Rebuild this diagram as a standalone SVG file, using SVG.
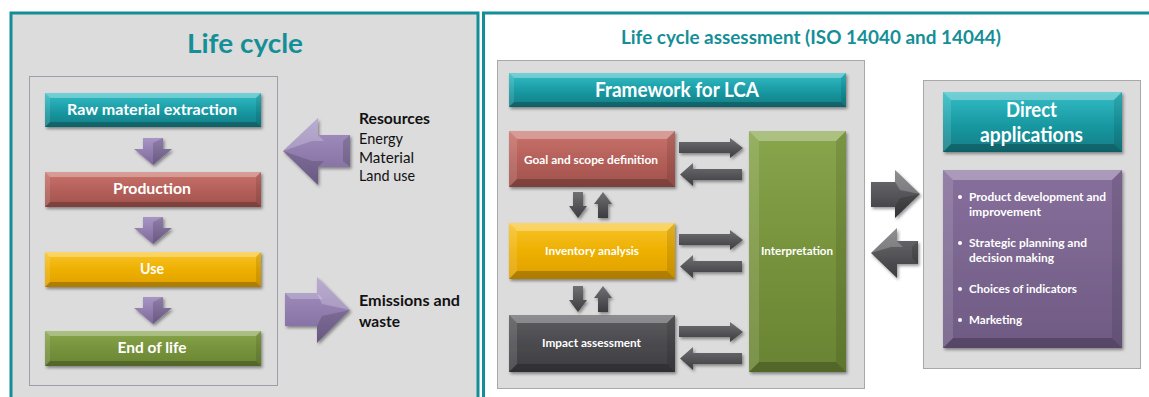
<svg xmlns="http://www.w3.org/2000/svg" width="1149" height="397" viewBox="0 0 1149 397">
<style>
text{font-family:Lato,"Open Sans","Liberation Sans",sans-serif;}
.w{fill:#ffffff;font-weight:bold;text-anchor:middle;}
.tl{fill:#ffffff;fill-opacity:.30;}
.bb{fill:#000000;fill-opacity:.22;}
.ll{fill:#ffffff;fill-opacity:.12;}
.rr{fill:#000000;fill-opacity:.10;}
.title{fill:#158f97;font-weight:bold;text-anchor:middle;}
.blk{fill:#111111;font-size:15px;}
.bul{fill:#ffffff;font-weight:bold;font-size:12px;}
.pa{fill:url(#gP);filter:url(#sh);}
.ga{fill:url(#gG);filter:url(#sh);}
.fa{fill:#ffffff;fill-opacity:.22;}
.fd{fill:#000000;fill-opacity:.15;}
</style>
<defs>
<filter id="sh" x="-20%" y="-20%" width="150%" height="150%">
<feDropShadow dx="1.5" dy="2" stdDeviation="1.5" flood-color="#000" flood-opacity=".4"/>
</filter>
<linearGradient id="gT" x1="0" y1="0" x2="0" y2="1"><stop offset="0" stop-color="#35bdc6"/><stop offset=".5" stop-color="#1a9ca5"/><stop offset="1" stop-color="#117c84"/></linearGradient>
<linearGradient id="gR" x1="0" y1="0" x2="0" y2="1"><stop offset="0" stop-color="#c9736b"/><stop offset=".5" stop-color="#b5605a"/><stop offset="1" stop-color="#a0524c"/></linearGradient>
<linearGradient id="gY" x1="0" y1="0" x2="0" y2="1"><stop offset="0" stop-color="#f8c42a"/><stop offset=".5" stop-color="#eeb000"/><stop offset="1" stop-color="#df9f00"/></linearGradient>
<linearGradient id="gE" x1="0" y1="0" x2="0" y2="1"><stop offset="0" stop-color="#88a64c"/><stop offset=".5" stop-color="#77933c"/><stop offset="1" stop-color="#698433"/></linearGradient>
<linearGradient id="gK" x1="0" y1="0" x2="0" y2="1"><stop offset="0" stop-color="#5c5c60"/><stop offset=".5" stop-color="#4b4b4f"/><stop offset="1" stop-color="#3d3d41"/></linearGradient>
<linearGradient id="gV" x1="0" y1="0" x2="0" y2="1"><stop offset="0" stop-color="#876f9c"/><stop offset=".5" stop-color="#7b6690"/><stop offset="1" stop-color="#6f5a84"/></linearGradient>
<linearGradient id="gP" x1="0" y1="0" x2="0" y2="1"><stop offset="0" stop-color="#a895c6"/><stop offset="1" stop-color="#7c6899"/></linearGradient>
<linearGradient id="gG" x1="0" y1="0" x2="0" y2="1"><stop offset="0" stop-color="#707074"/><stop offset="1" stop-color="#3c3c40"/></linearGradient>
</defs>

<rect x="0" y="0" width="1149" height="397" fill="#ffffff"/>

<!-- Left panel -->
<g id="panel-life-cycle">
<rect x="11" y="13" width="467" height="400" fill="#dcdcdc" stroke="#138e96" stroke-width="3"/>
<text class="title" x="245" y="53" font-size="27" textLength="116" lengthAdjust="spacingAndGlyphs">Life cycle</text>
<rect x="29.5" y="76.5" width="248" height="309" fill="none" stroke="#9f9dab" stroke-width="1"/>
</g>

<!-- Right panel -->
<g id="panel-lca">
<path d="M483.5 412 V13 H1149" fill="none" stroke="#138e96" stroke-width="3"/>
<text class="title" x="811" y="44" font-size="18.5" textLength="380" lengthAdjust="spacingAndGlyphs">Life cycle assessment (ISO 14040 and 14044)</text>
<rect x="497.5" y="60.5" width="367" height="328" fill="#dcdcdc" stroke="#a8a8a8" stroke-width="1"/>
<rect x="923.5" y="80.5" width="217" height="288" fill="#dcdcdc" stroke="#a8a8a8" stroke-width="1"/>
</g>

<!-- Life cycle nodes -->
<g id="raw-material">
<rect x="45" y="93" width="216" height="34" fill="url(#gT)" filter="url(#sh)"/>
<polygon class="tl" points="45,93 261,93 256,98 50,98"/><polygon class="bb" points="45,127 261,127 256,122 50,122"/><polygon class="ll" points="45,93 50,98 50,122 45,127"/><polygon class="rr" points="261,93 256,98 256,122 261,127"/>
<text class="w" x="152" y="115" font-size="15" textLength="170" lengthAdjust="spacingAndGlyphs">Raw material  extraction</text>
</g>
<g id="production">
<rect x="45" y="172" width="216" height="35" fill="url(#gR)" filter="url(#sh)"/>
<polygon class="tl" points="45,172 261,172 256,177 50,177"/><polygon class="bb" points="45,207 261,207 256,202 50,202"/><polygon class="ll" points="45,172 50,177 50,202 45,207"/><polygon class="rr" points="261,172 256,177 256,202 261,207"/>
<text class="w" x="152" y="194" font-size="15" textLength="78" lengthAdjust="spacingAndGlyphs">Production</text>
</g>
<g id="use">
<rect x="45" y="252" width="216" height="35" fill="url(#gY)" filter="url(#sh)"/>
<polygon class="tl" points="45,252 261,252 256,257 50,257"/><polygon class="bb" points="45,287 261,287 256,282 50,282"/><polygon class="ll" points="45,252 50,257 50,282 45,287"/><polygon class="rr" points="261,252 256,257 256,282 261,287"/>
<text class="w" x="152" y="274" font-size="15" textLength="24" lengthAdjust="spacingAndGlyphs">Use</text>
</g>
<g id="end-of-life">
<rect x="45" y="331" width="216" height="35" fill="url(#gE)" filter="url(#sh)"/>
<polygon class="tl" points="45,331 261,331 256,336 50,336"/><polygon class="bb" points="45,366 261,366 256,361 50,361"/><polygon class="ll" points="45,331 50,336 50,361 45,366"/><polygon class="rr" points="261,331 256,336 256,361 261,366"/>
<text class="w" x="152" y="353" font-size="15" textLength="69" lengthAdjust="spacingAndGlyphs">End of life</text>
</g>
<g id="resources">
<text class="blk" x="359" y="124" font-weight="bold" textLength="71" lengthAdjust="spacingAndGlyphs">Resources</text>
<text class="blk" x="359" y="144" textLength="44" lengthAdjust="spacingAndGlyphs">Energy</text>
<text class="blk" x="359" y="163" textLength="55" lengthAdjust="spacingAndGlyphs">Material</text>
<text class="blk" x="359" y="181" textLength="56" lengthAdjust="spacingAndGlyphs">Land use</text>
</g>
<g id="emissions">
<text class="blk" x="359" y="306" font-weight="bold" textLength="101" lengthAdjust="spacingAndGlyphs">Emissions and</text>
<text class="blk" x="359" y="327" font-weight="bold" textLength="41" lengthAdjust="spacingAndGlyphs">waste</text>
</g>

<!-- LCA nodes -->
<g id="framework">
<rect x="509" y="73" width="337" height="34" fill="url(#gT)" filter="url(#sh)"/>
<polygon class="tl" points="509,73 846,73 841,78 514,78"/><polygon class="bb" points="509,107 846,107 841,102 514,102"/><polygon class="ll" points="509,73 514,78 514,102 509,107"/><polygon class="rr" points="846,73 841,78 841,102 846,107"/>
<text class="w" x="677" y="97" font-size="20" textLength="164" lengthAdjust="spacingAndGlyphs">Framework for LCA</text>
</g>
<g id="goal-scope">
<rect x="509" y="131" width="166" height="56" fill="url(#gR)" filter="url(#sh)"/>
<polygon class="tl" points="509,131 675,131 667,139 517,139"/><polygon class="bb" points="509,187 675,187 667,179 517,179"/><polygon class="ll" points="509,131 517,139 517,179 509,187"/><polygon class="rr" points="675,131 667,139 667,179 675,187"/>
<text class="w" x="591" y="164" font-size="11.5" textLength="134" lengthAdjust="spacingAndGlyphs">Goal and scope definition</text>
</g>
<g id="inventory">
<rect x="509" y="223" width="166" height="56" fill="url(#gY)" filter="url(#sh)"/>
<polygon class="tl" points="509,223 675,223 667,231 517,231"/><polygon class="bb" points="509,279 675,279 667,271 517,271"/><polygon class="ll" points="509,223 517,231 517,271 509,279"/><polygon class="rr" points="675,223 667,231 667,271 675,279"/>
<text class="w" x="592" y="255" font-size="11.5" textLength="94" lengthAdjust="spacingAndGlyphs">Inventory analysis</text>
</g>
<g id="impact">
<rect x="509" y="315" width="166" height="57" fill="url(#gK)" filter="url(#sh)"/>
<polygon class="tl" points="509,315 675,315 667,323 517,323"/><polygon class="bb" points="509,372 675,372 667,364 517,364"/><polygon class="ll" points="509,315 517,323 517,364 509,372"/><polygon class="rr" points="675,315 667,323 667,364 675,372"/>
<text class="w" x="591.5" y="347" font-size="11.5" textLength="99" lengthAdjust="spacingAndGlyphs">Impact assessment</text>
</g>
<g id="interpretation">
<rect x="749" y="131" width="97" height="241" fill="url(#gE)" filter="url(#sh)"/>
<polygon class="tl" points="749,131 846,131 836,141 759,141"/><polygon class="bb" points="749,372 846,372 836,362 759,362"/><polygon class="ll" points="749,131 759,141 759,362 749,372"/><polygon class="rr" points="846,131 836,141 836,362 846,372"/>
<text class="w" x="797" y="255" font-size="11.5" textLength="72" lengthAdjust="spacingAndGlyphs">Interpretation</text>
</g>
<g id="direct-applications">
<rect x="943" y="92" width="179" height="60" fill="url(#gT)" filter="url(#sh)"/>
<polygon class="tl" points="943,92 1122,92 1114,100 951,100"/><polygon class="bb" points="943,152 1122,152 1114,144 951,144"/><polygon class="ll" points="943,92 951,100 951,144 943,152"/><polygon class="rr" points="1122,92 1114,100 1114,144 1122,152"/>
<text class="w" x="1031.5" y="117" font-size="20.5" textLength="51" lengthAdjust="spacingAndGlyphs">Direct</text>
<text class="w" x="1031.5" y="142" font-size="20.5" textLength="103" lengthAdjust="spacingAndGlyphs">applications</text>
</g>
<g id="applications-list">
<rect x="943" y="170" width="179" height="178" fill="url(#gV)" filter="url(#sh)"/>
<polygon class="tl" points="943,170 1122,170 1112,180 953,180"/><polygon class="bb" points="943,348 1122,348 1112,338 953,338"/><polygon class="ll" points="943,170 953,180 953,338 943,348"/><polygon class="rr" points="1122,170 1112,180 1112,338 1122,348"/>
<circle cx="960" cy="197" r="2" fill="#fff"/><text class="bul" x="969" y="201" textLength="137" lengthAdjust="spacingAndGlyphs">Product development and</text>
<text class="bul" x="969" y="216" textLength="72" lengthAdjust="spacingAndGlyphs">improvement</text>
<circle cx="960" cy="243" r="2" fill="#fff"/><text class="bul" x="969" y="247" textLength="118" lengthAdjust="spacingAndGlyphs">Strategic planning and</text>
<text class="bul" x="969" y="262" textLength="85" lengthAdjust="spacingAndGlyphs">decision making</text>
<circle cx="960" cy="289" r="2" fill="#fff"/><text class="bul" x="969" y="293" textLength="108" lengthAdjust="spacingAndGlyphs">Choices of indicators</text>
<circle cx="960" cy="320" r="2" fill="#fff"/><text class="bul" x="969" y="324" textLength="53" lengthAdjust="spacingAndGlyphs">Marketing</text>
</g>

<!-- Connectors -->
<g id="connectors">
<g>
<polygon class="pa" points="143,138 163,138 163,149 172,149 153,165 134,149 143,149"/>
<polygon class="fd" points="153,143 163,138 163,149 172,149 153,165"/>
<polygon class="pa" points="143,217 163,217 163,228 172,228 153,244 134,228 143,228"/>
<polygon class="fd" points="153,222 163,217 163,228 172,228 153,244"/>
<polygon class="pa" points="143,297 163,297 163,308 172,308 153,324 134,308 143,308"/>
<polygon class="fd" points="153,302 163,297 163,308 172,308 153,324"/>
</g>
<polygon class="pa" points="283,151 318,118 318,135 350,135 350,167 318,167 318,185"/>
<polygon class="fa" points="283,151 318,118 318,135 324,141 312,141"/>
<polygon class="fd" points="283,151 312,161 324,161 318,167 318,185"/>
<polygon class="fd" points="350,135 350,167 343,161 343,141"/>
<polygon class="pa" points="285,293 317,293 317,277 350,310 317,343 317,326 285,326"/>
<polygon class="fa" points="285,293 317,293 323,299 291,299"/>
<polygon class="fa" points="317,277 350,310 322,304 317,293"/>
<polygon class="fd" points="350,310 317,343 317,326 322,316"/>
<g>
<polygon class="ga" points="679,142 730,142 730,138 743,148 730,158 730,153 679,153"/>
<polygon class="ga" points="680,174.5 693,163 693,169 742,169 742,180 693,180 693,186"/>
<polygon class="ga" points="679,234 730,234 730,230 743,240 730,250 730,245 679,245"/>
<polygon class="ga" points="680,266.5 693,255 693,261 742,261 742,272 693,272 693,278"/>
<polygon class="ga" points="679,326 730,326 730,322 743,332 730,342 730,337 679,337"/>
<polygon class="ga" points="680,358.5 693,347 693,353 742,353 742,364 693,364 693,370"/>
</g>
<g>
<polygon class="ga" points="573,192 583,192 583,206 587,206 578,218 569,206 573,206"/>
<polygon class="ga" points="603,192 612,204 608,204 608,218 598,218 598,204 594,204"/>
<polygon class="ga" points="573,286 583,286 583,300 587,300 578,312 569,300 573,300"/>
<polygon class="ga" points="603,286 612,298 608,298 608,312 598,312 598,298 594,298"/>
</g>
<polygon class="ga" points="871,182 895,182 895,170 920,194 895,218 895,207 871,207"/>
<polygon class="fa" points="895,170 920,194 900,190 895,182"/>
<polygon class="fd" points="920,194 895,218 895,207 900,198"/>
<polygon class="ga" points="871,253 897,228 897,241 918,241 918,264 897,264 897,278"/>
<polygon class="fa" points="871,253 897,228 897,241 903,247 891,247"/>
<polygon class="fd" points="918,241 918,264 912,258 912,247"/>
</g>
</svg>
